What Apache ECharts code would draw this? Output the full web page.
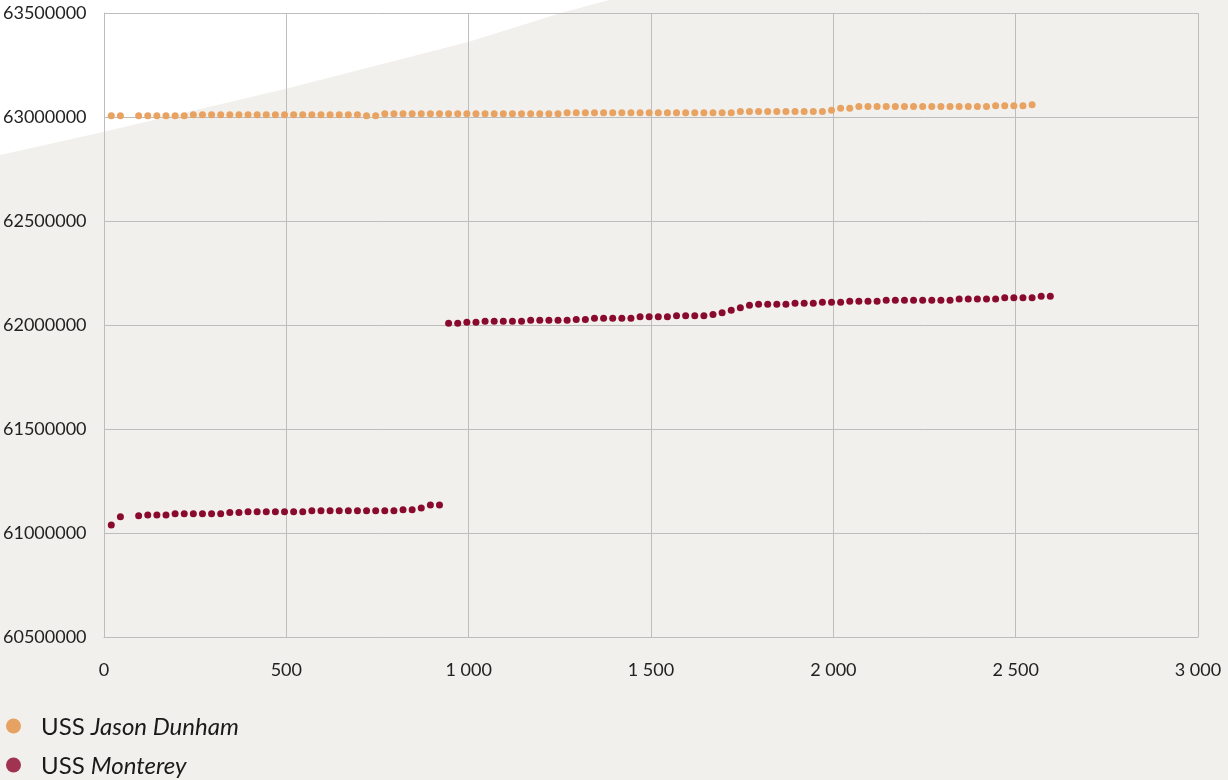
<!DOCTYPE html>
<html>
<head>
<meta charset="utf-8">
<script src="https://cdn.jsdelivr.net/npm/echarts@6/dist/echarts.min.js"></script>
<style>
html,body{margin:0;padding:0;background:#f2f0ec;}
#chart{width:1228px;height:780px;}
</style>
</head>
<body>
<div id="chart"></div>
<script>
// ---- data ----
const seriesNames = ['USS Jason Dunham', 'USS Monterey'];

const dunhamX = [20,45,95,120,145,170,195,220,245,270,295,320,345,370,395,420,445,470,495,520,545,570,595,620,645,670,695,720,745,770,795,820,845,870,895,920,945,970,995,1020,1045,1070,1095,1120,1145,1170,1195,1220,1245,1270,1295,1320,1345,1370,1395,1420,1445,1470,1495,1520,1545,1570,1595,1620,1645,1670,1695,1720,1745,1770,1795,1820,1845,1870,1895,1920,1945,1970,1995,2020,2045,2070,2095,2120,2145,2170,2195,2220,2245,2270,2295,2320,2345,2370,2395,2420,2445,2470,2495,2520,2545];
const dunhamY = [
63006000,63006000,
63006000,63006000,63006000,63006000,63006000,63006000,
63011000,63011000,63011000,63011000,63011000,63011000,63011000,63011000,63011000,63011000,
63011000,63011000,63011000,63011000,63011000,63011000,63011000,63011000,63011000,
63006000,63006000,
63016000,63016000,63016000,63016000,63016000,63016000,63016000,63016000,63016000,63016000,
63016000,63016000,63016000,63016000,63016000,63016000,63016000,63016000,63016000,63016000,
63021000,63021000,63021000,63021000,63021000,63021000,63021000,63021000,63021000,63021000,
63021000,63021000,63021000,63021000,63021000,63021000,63021000,63021000,63021000,
63027000,63027000,63027000,63027000,63027000,63027000,63027000,63027000,63027000,63027000,
63032000,
63042000,63042000,
63050000,63050000,63050000,63050000,63050000,63050000,63050000,63050000,63050000,63050000,
63050000,63050000,63050000,63050000,63050000,
63054000,63054000,63054000,63054000,
63059000
];

const montereyX = [20,45,95,120,145,170,195,220,245,270,295,320,345,370,395,420,445,470,495,520,545,570,595,620,645,670,695,720,745,770,795,820,845,870,895,920,945,970,995,1020,1045,1070,1095,1120,1145,1170,1195,1220,1245,1270,1295,1320,1345,1370,1395,1420,1445,1470,1495,1520,1545,1570,1595,1620,1645,1670,1695,1720,1745,1770,1795,1820,1845,1870,1895,1920,1945,1970,1995,2020,2045,2070,2095,2120,2145,2170,2195,2220,2245,2270,2295,2320,2345,2370,2395,2420,2445,2470,2495,2520,2545,2570,2595];
const montereyY = [
61038000,61078000,
61083000,
61087000,61087000,61087000,
61093000,61093000,61093000,61093000,61093000,61093000,
61098000,61098000,
61102000,61102000,61102000,61102000,61102000,61102000,61102000,
61107000,61107000,61107000,61107000,61107000,61107000,61107000,61107000,61107000,61107000,
61112000,61112000,
61120000,
61135000,61135000,
62008000,62008000,
62013000,62013000,
62018000,62018000,62018000,62018000,62018000,
62023000,62023000,62023000,62023000,62023000,
62027000,62027000,
62032000,62032000,62032000,62032000,62032000,
62040000,62040000,62040000,62040000,
62045000,62045000,62045000,62045000,
62050000,
62059000,
62071000,
62083000,
62095000,
62100000,62100000,62100000,62100000,
62104000,62104000,62104000,
62109000,62109000,62109000,
62114000,62114000,62114000,62114000,
62119000,62119000,62119000,62119000,62119000,62119000,62119000,62119000,
62125000,62125000,62125000,62125000,62125000,
62131000,62131000,62131000,62131000,
62138000,62138000
];

const xTicks = {min: 0, max: 3000, step: 500};
const yTicks = {min: 60500000, max: 63500000, step: 500000};

// ---- chart ----
const gridColor = '#bdbdbd';
const font = 'Lato, "Noto Sans", sans-serif';
const colors = ['#e8a261', '#8a0a2e'];
const legendColors = ['#e6a263', '#a0334f'];

function zip(xs, ys){ return xs.map((x,i)=>[x, ys[i]]); }

const chart = echarts.init(document.getElementById('chart'), null, {renderer:'canvas'});
chart.setOption({
  backgroundColor: '#f2f0ec',
  animation: false,
  graphic: {
    elements: [{
      type: 'polygon',
      z: -100,
      silent: true,
      shape: { points: [[0,0],[609,0],[561,13],[468,42],[285,89],[103,132],[0,155]] },
      style: { fill: '#ffffff' }
    }]
  },
  grid: { left: 103, right: 30, top: 13, bottom: 143, containLabel: false },
  xAxis: {
    type: 'value',
    min: xTicks.min, max: xTicks.max, interval: xTicks.step,
    axisLine: { show: true, lineStyle: { color: gridColor, width: 1 } },
    axisTick: { show: false },
    splitLine: { show: true, lineStyle: { color: gridColor, width: 1 } },
    axisLabel: {
      margin: 24, color: '#222', fontFamily: font, fontSize: 18,
      formatter: v => String(v).replace(/\B(?=(\d{3})+(?!\d))/g, ' ')
    }
  },
  yAxis: {
    type: 'value',
    min: yTicks.min, max: yTicks.max, interval: yTicks.step,
    axisLine: { show: true, lineStyle: { color: gridColor, width: 1 } },
    axisTick: { show: false },
    splitLine: { show: true, lineStyle: { color: gridColor, width: 1 } },
    axisLabel: {
      margin: 101, align: 'left', color: '#222', fontFamily: font, fontSize: 18,
      formatter: v => String(v)
    }
  },
  legend: {
    type: 'plain',
    orient: 'vertical',
    left: 6, top: 715,
    height: 75,
    padding: 0,
    itemWidth: 15, itemHeight: 15, itemGap: 15,
    icon: 'circle',
    data: seriesNames.map((n,i)=>({ name: n, itemStyle: { color: legendColors[i] } })),
    formatter: name => {
      const idx = name.indexOf(' ');
      return '{r|' + name.slice(0, idx) + ' }{i|' + name.slice(idx+1) + '}';
    },
    textStyle: {
      padding: [2,0,0,15],
      rich: {
        r: { fontFamily: font, fontSize: 24, color: '#1a1a1a', lineHeight: 26 },
        i: { fontFamily: font, fontSize: 24, fontStyle: 'italic', color: '#1a1a1a', lineHeight: 26 }
      }
    }
  },
  series: [
    { name: seriesNames[0], type: 'scatter', symbol: 'circle', symbolSize: 7,
      itemStyle: { color: colors[0], opacity: 1 }, data: zip(dunhamX, dunhamY) },
    { name: seriesNames[1], type: 'scatter', symbol: 'circle', symbolSize: 7,
      itemStyle: { color: colors[1], opacity: 1 }, data: zip(montereyX, montereyY) }
  ]
});
</script>
</body>
</html>
